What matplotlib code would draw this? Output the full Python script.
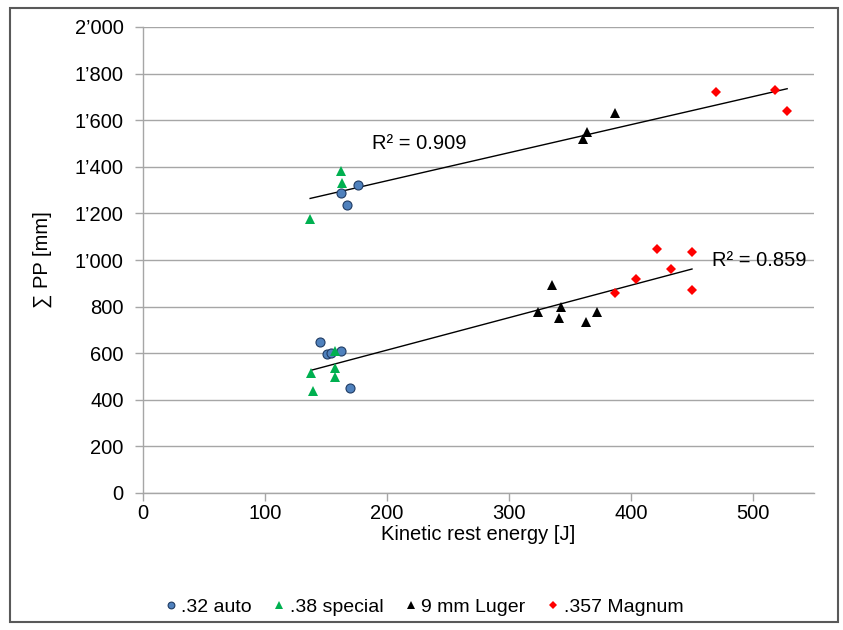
import numpy as np
import matplotlib
matplotlib.use("Agg")
import matplotlib.pyplot as plt
from matplotlib.patches import Rectangle
from matplotlib.ticker import FuncFormatter

plt.rcParams['font.family'] = ['Liberation Sans', 'DejaVu Sans']

# ---- data: upper group ----
auto_up_x = [176, 162, 167]
auto_up_y = [1322, 1288, 1236]
special_up_x = [162, 163, 137]
special_up_y = [1383, 1329, 1175]
luger_up_x = [387, 364, 361]
luger_up_y = [1630, 1551, 1518]
magnum_up_x = [470, 518, 528]
magnum_up_y = [1720, 1728, 1640]

# ---- data: lower group ----
auto_low_x = [145, 151, 154, 162, 170]
auto_low_y = [647, 597, 600, 611, 449]
special_low_x = [157, 157, 157, 138, 139]
special_low_y = [611, 538, 499, 514, 439]
luger_low_x = [335, 324, 343, 341, 363, 372]
luger_low_y = [893, 778, 800, 752, 735, 778]
magnum_low_x = [421, 450, 433, 404, 387, 450]
magnum_low_y = [1046, 1036, 961, 918, 860, 871]

labels = ['.32 auto', '.38 special', '9 mm Luger', '.357 Magnum']
r2_up = '0.909'
r2_low = '0.859'

FS = 14.5

fig = plt.figure(figsize=(8.43, 6.3), dpi=100)
ax = fig.add_axes([143/843, 1-493/630, (814-143)/843, (493-27)/630])

styles = [
    dict(marker='o', color='#4F81BD', mec='#1F3B63', mew=0.8, ms=6.5),
    dict(marker='^', color='#00B050', mec='#00B050', mew=0, ms=7),
    dict(marker='^', color='black', mec='black', mew=0, ms=7),
    dict(marker='D', color='#FF0000', mec='#FF0000', mew=0, ms=5),
]
ups = [(auto_up_x, auto_up_y), (special_up_x, special_up_y), (luger_up_x, luger_up_y), (magnum_up_x, magnum_up_y)]
lows = [(auto_low_x, auto_low_y), (special_low_x, special_low_y), (luger_low_x, luger_low_y), (magnum_low_x, magnum_low_y)]

handles = []
for st, lab, (ux, uy), (lx, ly) in zip(styles, labels, ups, lows):
    h, = ax.plot(ux, uy, ls='none', label=lab, zorder=3, **st)
    ax.plot(lx, ly, ls='none', zorder=3, **st)
    handles.append(h)

for group in (ups, lows):
    xs = np.concatenate([np.array(g[0], float) for g in group])
    ys = np.concatenate([np.array(g[1], float) for g in group])
    p = np.polyfit(xs, ys, 1)
    xx = np.array([xs.min(), xs.max()])
    ax.plot(xx, np.polyval(p, xx), color='black', lw=1.0, zorder=2)

ax.text(188, 1502, 'R² = ' + r2_up, fontsize=FS, va='center', ha='left')
ax.text(466, 996, 'R² = ' + r2_low, fontsize=FS, va='center', ha='left')

ax.set_xlim(0, 550)
ax.set_ylim(0, 2000)
ax.set_xticks(range(0, 501, 100))
ax.set_yticks(range(0, 2001, 200))
ax.yaxis.set_major_formatter(FuncFormatter(lambda v, p: f"{int(v):,}".replace(',', '’')))
ax.grid(axis='y', color='#A6A6A6', lw=1.0)
ax.set_axisbelow(True)
for s in ['top', 'right']:
    ax.spines[s].set_visible(False)
for s in ['left', 'bottom']:
    ax.spines[s].set_color('#A6A6A6')
    ax.spines[s].set_linewidth(1.0)
ax.tick_params(axis='both', direction='out', length=6, color='#A6A6A6', labelsize=FS, width=1.0)
ax.tick_params(axis='y', pad=8)
ax.tick_params(axis='x', pad=2)
ax.set_xlabel('Kinetic rest energy [J]', fontsize=FS, labelpad=1)
ax.set_ylabel('∑ PP [mm]', fontsize=FS, labelpad=16)

fig.legend(handles=handles, labels=labels, loc='center', bbox_to_anchor=(0.5, 1-607/630),
           ncol=4, frameon=False, fontsize=14, handletextpad=0.0, columnspacing=0.85,
           markerscale=0.75, handlelength=1.1)

fig.patches.append(Rectangle((10/843, 8/630), (838-10)/843, (622-8)/630, transform=fig.transFigure,
                             fill=False, edgecolor='#595959', lw=1.5))

fig.savefig('out.png', dpi=100)
